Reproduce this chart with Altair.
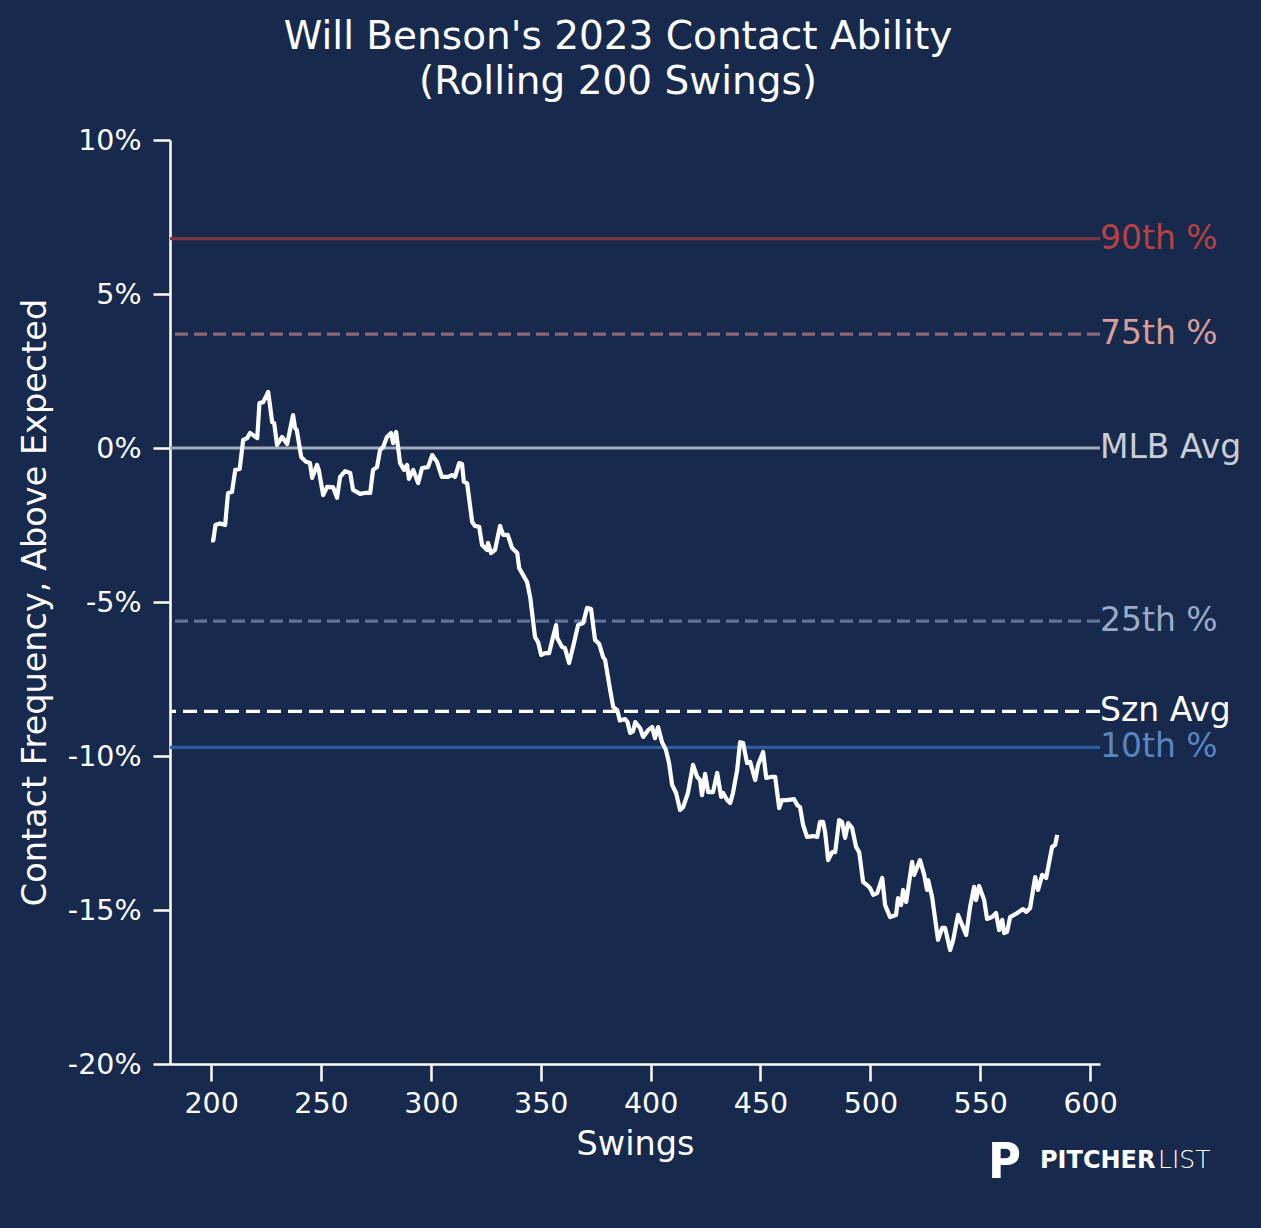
import altair as alt
import pandas as pd

# ---- data ----
SWINGS = [200, 201, 202, 204, 206.4, 207.7, 209.5, 211, 213, 214.6, 216.4, 217.7, 221, 222, 223.7, 226,
          227.8, 228.7, 230, 232.3, 234.6, 237.3, 238.2, 239, 241, 243.2, 245, 246, 248.2, 249, 251, 252.8,
          255.5, 257.3, 258.7, 261, 263.3, 264.6, 267.8, 270, 272.4, 273.7, 275.5, 276.9, 278.3, 280, 281.9,
          282.8, 284.2, 286, 287.8, 289.2, 290, 292, 294.2, 296, 298.7, 300.6, 302.8, 305, 307.8, 309.7, 311,
          312.9, 314.2, 315, 316.5, 318.8, 320.1, 322, 323.3, 325.6, 326, 327.4, 329.2, 331.5, 332.9, 335,
          337, 339.3, 340.2, 343.8, 345.2, 347.4, 348.8, 350.2, 352, 353.8, 355.6, 357, 357.5, 359.7, 361,
          362.9, 364.7, 367, 369.3, 371.1, 372.9, 374.7, 376.6, 378.4, 379.3, 381.6, 383, 384.8, 386, 388.4,
          389.5, 390.7, 392, 393, 395.2, 396.6, 398.9, 400.7, 402, 403.4, 405.2, 407, 408.4, 409.8, 411.6,
          413.4, 414.8, 417, 419.3, 421.2, 422.5, 423.4, 424.8, 426.2, 428.4, 430.3, 432.1, 433, 434.8, 436.2,
          437.5, 439.4, 440.7, 442.1, 443.9, 445.3, 447.6, 448.9, 451.2, 452.6, 454.8, 456.7, 458.5, 459.8,
          462.1, 465.3, 466.7, 468, 469.4, 471.2, 474, 475.8, 477.1, 478.5, 479.4, 480.8, 482.6, 484, 485.8,
          487.1, 488.5, 489.9, 491.7, 493.5, 494.9, 496.7, 498.5, 499.9, 501.3, 503.1, 505.4, 506.7, 509,
          511.7, 512.6, 514, 514.9, 516.3, 519, 519.9, 522.6, 524.5, 525.8, 526.3, 528.1, 530.8, 532.7, 534,
          536.3, 537.7, 539.9, 541.8, 543.6, 545.4, 547.2, 548.1, 549.5, 551.8, 553.1, 555.4, 557.2, 558.6,
          560, 560.9, 562.2, 563.6, 566.8, 569.5, 570.9, 572.7, 575, 576.3, 578.2, 580, 582.7, 584.1, 585]
CONTACT = [-3.0, -3.0, -2.5, -2.45, -2.5, -1.46, -1.43, -0.71, -0.68, 0.26, 0.32, 0.49, 0.32, 1.46, 1.49, 1.82,
           0.84, 0.81, 0.1, 0.36, 0.13, 1.07, 0.65, 0.58, -0.29, -0.45, -0.49, -0.97, -0.55, -0.71, -1.53, -1.26,
           -1.27, -1.62, -0.94, -0.75, -0.81, -1.36, -1.49, -1.46, -1.46, -0.71, -0.62, -0.06, 0.03, 0.36, 0.49,
           0.16, 0.52, -0.49, -0.71, -0.55, -1.0, -0.71, -1.14, -0.65, -0.62, -0.23, -0.45, -0.94, -0.94, -0.88, -0.94,
           -0.49, -0.52, -1.1, -1.14, -2.4, -2.53, -2.56, -3.15, -3.31, -3.08, -3.41, -3.31, -2.53, -2.82, -2.82,
           -3.25, -3.41, -3.9, -4.35, -4.84, -6.14, -6.3, -6.72, -6.66, -6.66, -6.14, -5.75, -6.17, -6.46, -6.49,
           -6.98, -6.46, -5.75, -5.68, -5.19, -5.23, -6.23, -6.36, -6.79, -6.88, -7.86, -8.41, -8.51, -8.85, -8.8,
           -8.9, -9.25, -9.2, -8.9, -9.09, -9.38, -9.16, -9.06, -9.42, -9.06, -9.55, -9.81, -10.23, -10.94, -11.2,
           -11.75, -11.66, -11.2, -10.29, -10.68, -10.78, -11.27, -10.58, -11.17, -11.17, -10.55, -11.33, -11.2, -11.43, -11.53,
           -11.2, -10.45, -9.55, -9.58, -10.23, -10.19, -10.78, -10.29, -9.87, -10.71, -10.68, -10.68, -11.69, -11.43,
           -11.43, -11.4, -11.59, -11.66, -12.24, -12.63, -12.6, -12.63, -12.14, -12.14, -12.47, -13.38, -13.12, -13.12, -12.08,
           -12.14, -12.66, -12.18, -12.34, -12.95, -13.12, -14.09, -14.19, -14.29, -14.51, -14.45, -13.96, -14.84, -15.23,
           -15.16, -14.61, -14.84, -14.35, -14.74, -13.44, -13.86, -13.38, -13.86, -14.35, -14.03, -14.58, -15.97, -15.58, -15.58,
           -16.3, -15.97, -15.16, -15.49, -15.81, -14.9, -14.25, -14.68, -14.22, -14.68, -15.29, -15.23, -15.1, -15.65,
           -15.32, -15.75, -15.71, -15.23, -15.1, -14.97, -15.06, -14.94, -13.93, -14.35, -13.86, -13.96, -12.95, -12.89, -12.56]

REF_LABELS = ["90th %", "75th %", "MLB Avg", "25th %", "Szn Avg", "10th %"]
REF_VALUES = [6.8, 3.7, 0.0, -5.62, -8.55, -9.72]
REF_LINE_COLORS = ["#7b3545", "#8c6676", "#a3aab8", "#5d7399", "#ffffff", "#2f5c9f"]
REF_TEXT_COLORS = ["#b9413f", "#d99c98", "#c9cdd6", "#9aabc8", "#ffffff", "#5b84c2"]
REF_DASHED = [False, True, False, True, True, False]

X_TICKS = [200, 250, 300, 350, 400, 450, 500, 550, 600]
Y_TICKS = [-20, -15, -10, -5, 0, 5, 10]
X_DOMAIN = [181.3, 604.5]
Y_DOMAIN = [-20, 10]

BG = "#172a4d"
FONT = "DejaVu Sans"

line_df = pd.DataFrame({"swings": SWINGS, "contact": CONTACT})
ref_df = pd.DataFrame({
    "label": REF_LABELS, "value": REF_VALUES,
    "lcolor": REF_LINE_COLORS, "tcolor": REF_TEXT_COLORS, "dashed": REF_DASHED,
    "xend": [X_DOMAIN[1]] * len(REF_LABELS),
})

W, H = 930, 924

x_enc = alt.X("swings:Q", scale=alt.Scale(domain=X_DOMAIN, nice=False, zero=False),
              axis=alt.Axis(title="Swings", values=X_TICKS, format="d"))
y_enc = alt.Y("contact:Q", scale=alt.Scale(domain=Y_DOMAIN, nice=False, zero=False),
              axis=alt.Axis(title="Contact Frequency, Above Expected", values=Y_TICKS,
                            labelExpr="datum.value + '%'"))

solid = ref_df[~ref_df["dashed"]]
dashed_grey = ref_df[ref_df["dashed"] & (ref_df["label"] != "Szn Avg")]
szn = ref_df[ref_df["label"] == "Szn Avg"]

yref = alt.Y("value:Q", scale=alt.Scale(domain=Y_DOMAIN, nice=False))

rules_solid = alt.Chart(solid).mark_rule(strokeWidth=3.2).encode(
    y=yref, color=alt.Color("lcolor:N", scale=None),
)
rules_dashed = alt.Chart(dashed_grey).mark_rule(strokeWidth=3.2, strokeDash=[13, 6]).encode(
    y=yref, color=alt.Color("lcolor:N", scale=None),
)
rule_szn = alt.Chart(szn).mark_rule(strokeWidth=3.2, strokeDash=[14, 7]).encode(
    y=yref, color=alt.Color("lcolor:N", scale=None),
)

ref_text = alt.Chart(ref_df).mark_text(align="left", baseline="middle", fontSize=33, font=FONT).encode(
    x=alt.X("xend:Q", scale=alt.Scale(domain=X_DOMAIN, nice=False, zero=False)),
    y=yref,
    text="label:N",
    color=alt.Color("tcolor:N", scale=None),
)

line = alt.Chart(line_df).mark_line(color="white", strokeWidth=4.2, strokeJoin="round").encode(
    x=x_enc, y=y_enc
)

logo_df = pd.DataFrame({"t": ["PITCHER", "LIST", "P"]})
logo_p = alt.Chart(logo_df[logo_df.t == "P"]).mark_text(
    align="left", baseline="alphabetic", fontSize=50, font="DejaVu Sans Condensed", fontWeight="bold",
    color="white"
).encode(x=alt.value(818), y=alt.value(1038), text="t:N")
logo_a = alt.Chart(logo_df[logo_df.t == "PITCHER"]).mark_text(
    align="left", baseline="alphabetic", fontSize=24, font=FONT, fontWeight="bold", color="white"
).encode(x=alt.value(870), y=alt.value(1028), text="t:N")
logo_b = alt.Chart(logo_df[logo_df.t == "LIST"]).mark_text(
    align="left", baseline="alphabetic", fontSize=25, font=FONT, fontWeight=200, color="white"
).encode(x=alt.value(988), y=alt.value(1028), text="t:N")

chart = alt.layer(
    rules_solid, rules_dashed, rule_szn, line, ref_text, logo_p, logo_a, logo_b
).properties(
    width=W, height=H,
    title=alt.TitleParams(
        text=["Will Benson's 2023 Contact Ability", "(Rolling 200 Swings)"],
        fontSize=39, font=FONT, fontWeight="normal", color="white",
        anchor="middle", dx=-17, offset=24, lineHeight=45,
    ),
    autosize=alt.AutoSizeParams(type="none"),
    padding={"left": 162, "top": 132, "right": 150, "bottom": 150},
    background=BG,
).configure_view(stroke=None).configure_axis(
    grid=False,
    domainColor="white", domainWidth=2.5,
    tickColor="white", tickWidth=2.5, tickSize=17,
    labelColor="white", labelFont=FONT, labelFontSize=28.5,
    titleColor="white", titleFont=FONT, titleFontSize=33.5, titleFontWeight="normal",
).configure_axisX(labelPadding=8, titlePadding=11).configure_axisY(labelPadding=12, titlePadding=15)

# give the page itself the chart's background colour (no white margin round the chart)
try:
    import altair.utils.html as _h
    _orig = _h.TEMPLATES["standard"]

    class _BgTemplate:
        def render(self, **kw):
            page = _orig.render(**kw)
            return page.replace("<head>", "<head><style>html,body{background:" + BG + ";}</style>", 1)

    _h.TEMPLATES["standard"] = _BgTemplate()
except Exception:
    pass

try:
    chart.save("out.html", embed_options={"renderer": "svg", "actions": False})
except Exception:
    import altair.utils.html as _h2
    _h2.TEMPLATES["standard"] = _orig
    chart.save("out.html", embed_options={"renderer": "svg", "actions": False})
